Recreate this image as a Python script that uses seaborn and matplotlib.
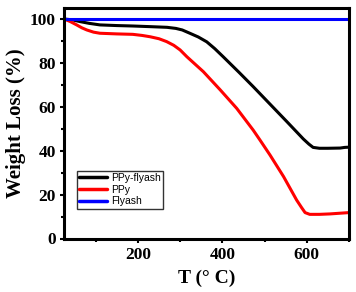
import numpy as np
import pandas as pd
import matplotlib
matplotlib.use("Agg")
import matplotlib.pyplot as plt
import seaborn as sns
from matplotlib.ticker import MultipleLocator

# Data
T_black = [25, 45, 63, 85, 110, 150, 188, 230, 269, 290, 305, 323, 343, 363, 382, 402, 440, 473, 513, 553, 592, 605, 615, 630, 650, 679, 690, 700]
W_black = [100, 99.6, 98.8, 98.0, 97.3, 97.0, 96.8, 96.5, 96.2, 95.7, 95.0, 93.5, 91.8, 89.6, 86.5, 82.8, 75.6, 69.2, 61.2, 53.2, 45.3, 43.0, 41.5, 41.1, 41.1, 41.2, 41.5, 41.6]
T_red = [25, 40, 55, 67, 79, 95, 110, 150, 188, 210, 229, 250, 268, 285, 300, 316, 355, 395, 434, 473, 489, 513, 545, 576, 588, 596, 607, 630, 655, 700]
W_red = [100, 98.8, 97.3, 96.0, 95.0, 94.0, 93.5, 93.2, 93.0, 92.5, 91.9, 91.0, 89.7, 88.0, 85.9, 82.8, 76.0, 67.7, 59.3, 49.4, 44.9, 38.0, 28.2, 17.5, 14.0, 11.8, 11.0, 11.0, 11.2, 11.8]
T_blue = [25, 700]
W_blue = [100, 100]
labels = ["PPy-flyash", "PPy", "Flyash"]
colors = ["#000000", "#ff0000", "#0000ff"]

df = pd.concat([
    pd.DataFrame({"T": T_black, "W": W_black, "s": labels[0]}),
    pd.DataFrame({"T": T_red, "W": W_red, "s": labels[1]}),
    pd.DataFrame({"T": T_blue, "W": W_blue, "s": labels[2]}),
])

sns.set_style("ticks")
plt.rcParams.update({"text.color": "black", "axes.labelcolor": "black",
                     "xtick.color": "black", "ytick.color": "black",
                     "axes.edgecolor": "black"})
fig = plt.figure(figsize=(3.56, 2.92), dpi=100)
ax = fig.add_axes([64/356, 1-238.5/292, (349-64)/356, (238.5-8)/292])
sns.lineplot(data=df, x="T", y="W", hue="s", palette=colors, hue_order=labels,
             linewidth=2.2, ax=ax, sort=False, estimator=None)

ax.set_xlim(25, 700)
ax.set_ylim(0, 105)
ax.xaxis.set_major_locator(MultipleLocator(200))
ax.xaxis.set_minor_locator(MultipleLocator(100))
ax.yaxis.set_major_locator(MultipleLocator(20))
ax.yaxis.set_minor_locator(MultipleLocator(10))
for s in ax.spines.values():
    s.set_linewidth(2.2)
    s.set_color("black")
    s.set_visible(True)
ax.tick_params(which="major", length=3, width=1.5, direction="out", pad=3, colors="black")
ax.tick_params(which="minor", length=2, width=1.5, direction="out", colors="black")
for lab in ax.get_xticklabels() + ax.get_yticklabels():
    lab.set_fontfamily("Liberation Serif")
    lab.set_fontweight("bold")
    lab.set_fontsize(12.5)
ax.set_xlabel("T (° C)", fontfamily="Liberation Serif", fontweight="bold", fontsize=14, labelpad=5, color="black")
ax.set_ylabel("Weight Loss (%)", fontfamily="Liberation Serif", fontweight="bold", fontsize=15, labelpad=3, color="black")

leg = ax.legend(loc="upper left", bbox_to_anchor=(0.045, 0.295), frameon=True, fancybox=False,
                prop={"family": "Liberation Sans", "size": 7.5}, handlelength=2.6,
                handletextpad=0.4, borderpad=0.25, labelspacing=0.15, borderaxespad=0)
leg.get_frame().set_edgecolor("black")
leg.get_frame().set_linewidth(1.0)
for t in leg.get_texts():
    t.set_color("black")
for l in leg.get_lines():
    l.set_linewidth(2.5)

fig.savefig("out.png", dpi=100)
